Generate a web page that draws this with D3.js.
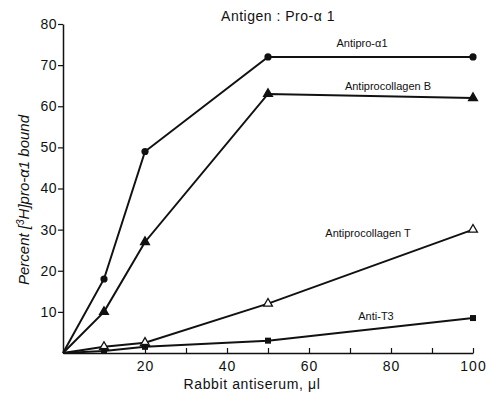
<!DOCTYPE html>
<html>
<head>
<meta charset="utf-8">
<script src="https://cdn.jsdelivr.net/npm/d3@7"></script>
<style>
  body { margin: 0; background: #fff; }
  text { font-family: "Liberation Sans", "DejaVu Sans", sans-serif; fill: #111; }
</style>
</head>
<body>
<div id="chart"></div>
<script>
const doses = [0, 10, 20, 50, 100];
const antiProA1 = [0, 18, 49, 72, 72];
const antiProcollagenB = [0, 10, 27, 63, 62];
const antiProcollagenT = [0, 1.5, 2.5, 12, 30];
const antiT3 = [0, 0.5, 1.5, 3, 8.5];
const xTicks = [10, 20, 30, 40, 50, 60, 70, 80, 90, 100];
const xTickLabels = [20, 40, 60, 80, 100];
const yTicks = [10, 20, 30, 40, 50, 60, 70, 80];

const width = 487, height = 396;
const margin = { left: 63, right: 14, top: 24, bottom: 43 };

const svg = d3.select('#chart').append('svg')
  .attr('width', width)
  .attr('height', height);

const x = d3.scaleLinear().domain([0, 100]).range([margin.left, width - margin.right]);
const y = d3.scaleLinear().domain([0, 80]).range([height - margin.bottom, margin.top]);

// Axes
const xAxis = svg.append('g')
  .attr('transform', `translate(0, ${y(0)})`)
  .call(d3.axisBottom(x).tickValues(xTicks).tickSizeInner(-5).tickSizeOuter(0)
    .tickFormat(d => xTickLabels.includes(d) ? d : ''));
xAxis.select('.domain').attr('stroke', '#111').attr('stroke-width', 1.5);
xAxis.selectAll('.tick line').attr('stroke', '#111').attr('stroke-width', 1.2);
xAxis.selectAll('.tick text').attr('dy', '1.1em').style('font-size', '14px').style('letter-spacing', '1px');

const yAxis = svg.append('g')
  .attr('transform', `translate(${x(0)}, 0)`)
  .call(d3.axisLeft(y).tickValues(yTicks).tickSize(5).tickSizeOuter(0));
yAxis.select('.domain').attr('stroke', '#111').attr('stroke-width', 1.5);
yAxis.selectAll('.tick line').attr('stroke', '#111').attr('stroke-width', 1.2);
yAxis.selectAll('.tick text').attr('x', -6).style('font-size', '14px').style('letter-spacing', '0.5px');

// Lines
const series = [
  { name: 'Antipro-α1', values: antiProA1, marker: 'circle' },
  { name: 'Antiprocollagen B', values: antiProcollagenB, marker: 'triangle' },
  { name: 'Antiprocollagen T', values: antiProcollagenT, marker: 'openTriangle' },
  { name: 'Anti-T3', values: antiT3, marker: 'square' }
];

const line = d3.line().x((d, i) => x(doses[i])).y(d => y(d));

series.forEach(s => {
  svg.append('path')
    .datum(s.values)
    .attr('fill', 'none')
    .attr('stroke', '#111')
    .attr('stroke-width', 2)
    .attr('d', line);
});

series.forEach(s => {
  const pts = s.values.map((v, i) => [doses[i], v]).filter(d => d[0] > 0);
  const g = svg.append('g');
  pts.forEach(([dx, dv]) => {
    const cx = x(dx), cy = y(dv);
    if (s.marker === 'circle') {
      g.append('circle').attr('cx', cx).attr('cy', cy).attr('r', 3.6).attr('fill', '#111');
    } else if (s.marker === 'square') {
      g.append('path').attr('d', d3.symbol(d3.symbolSquare, 36)())
        .attr('transform', `translate(${cx},${cy})`).attr('fill', '#111');
    } else {
      g.append('path').attr('d', d3.symbol(d3.symbolTriangle, 34)())
        .attr('transform', `translate(${cx},${cy})`)
        .attr('fill', s.marker === 'triangle' ? '#111' : '#fff')
        .attr('stroke', '#111').attr('stroke-width', 1.3);
    }
  });
});

// Series labels
const labels = [
  { text: 'Antipro-α1', x: 362, y: 47 },
  { text: 'Antiprocollagen B', x: 388, y: 90 },
  { text: 'Antiprocollagen T', x: 368, y: 237 },
  { text: 'Anti-T3', x: 376, y: 320 }
];
svg.selectAll('.slabel').data(labels).enter().append('text')
  .attr('x', d => d.x).attr('y', d => d.y)
  .attr('text-anchor', 'middle')
  .style('font-size', '11px')
  .text(d => d.text);

// Title
svg.append('text')
  .attr('x', 278).attr('y', 21)
  .attr('text-anchor', 'middle')
  .style('font-size', '14px')
  .style('letter-spacing', '0.5px')
  .text('Antigen : Pro-α 1');

// Axis titles
svg.append('text')
  .attr('x', 252).attr('y', 389)
  .attr('text-anchor', 'middle')
  .style('font-size', '14px')
  .style('letter-spacing', '0.6px')
  .text('Rabbit  antiserum, μl');

const yl = svg.append('text')
  .attr('transform', `translate(29, 200) rotate(-90)`)
  .attr('text-anchor', 'middle')
  .style('font-size', '15px')
  .style('font-style', 'italic');
yl.append('tspan').text('Percent [');
yl.append('tspan').attr('baseline-shift', 'super').style('font-size', '10px').text('3');
yl.append('tspan').text('H]pro-α1 bound');
</script>
</body>
</html>
